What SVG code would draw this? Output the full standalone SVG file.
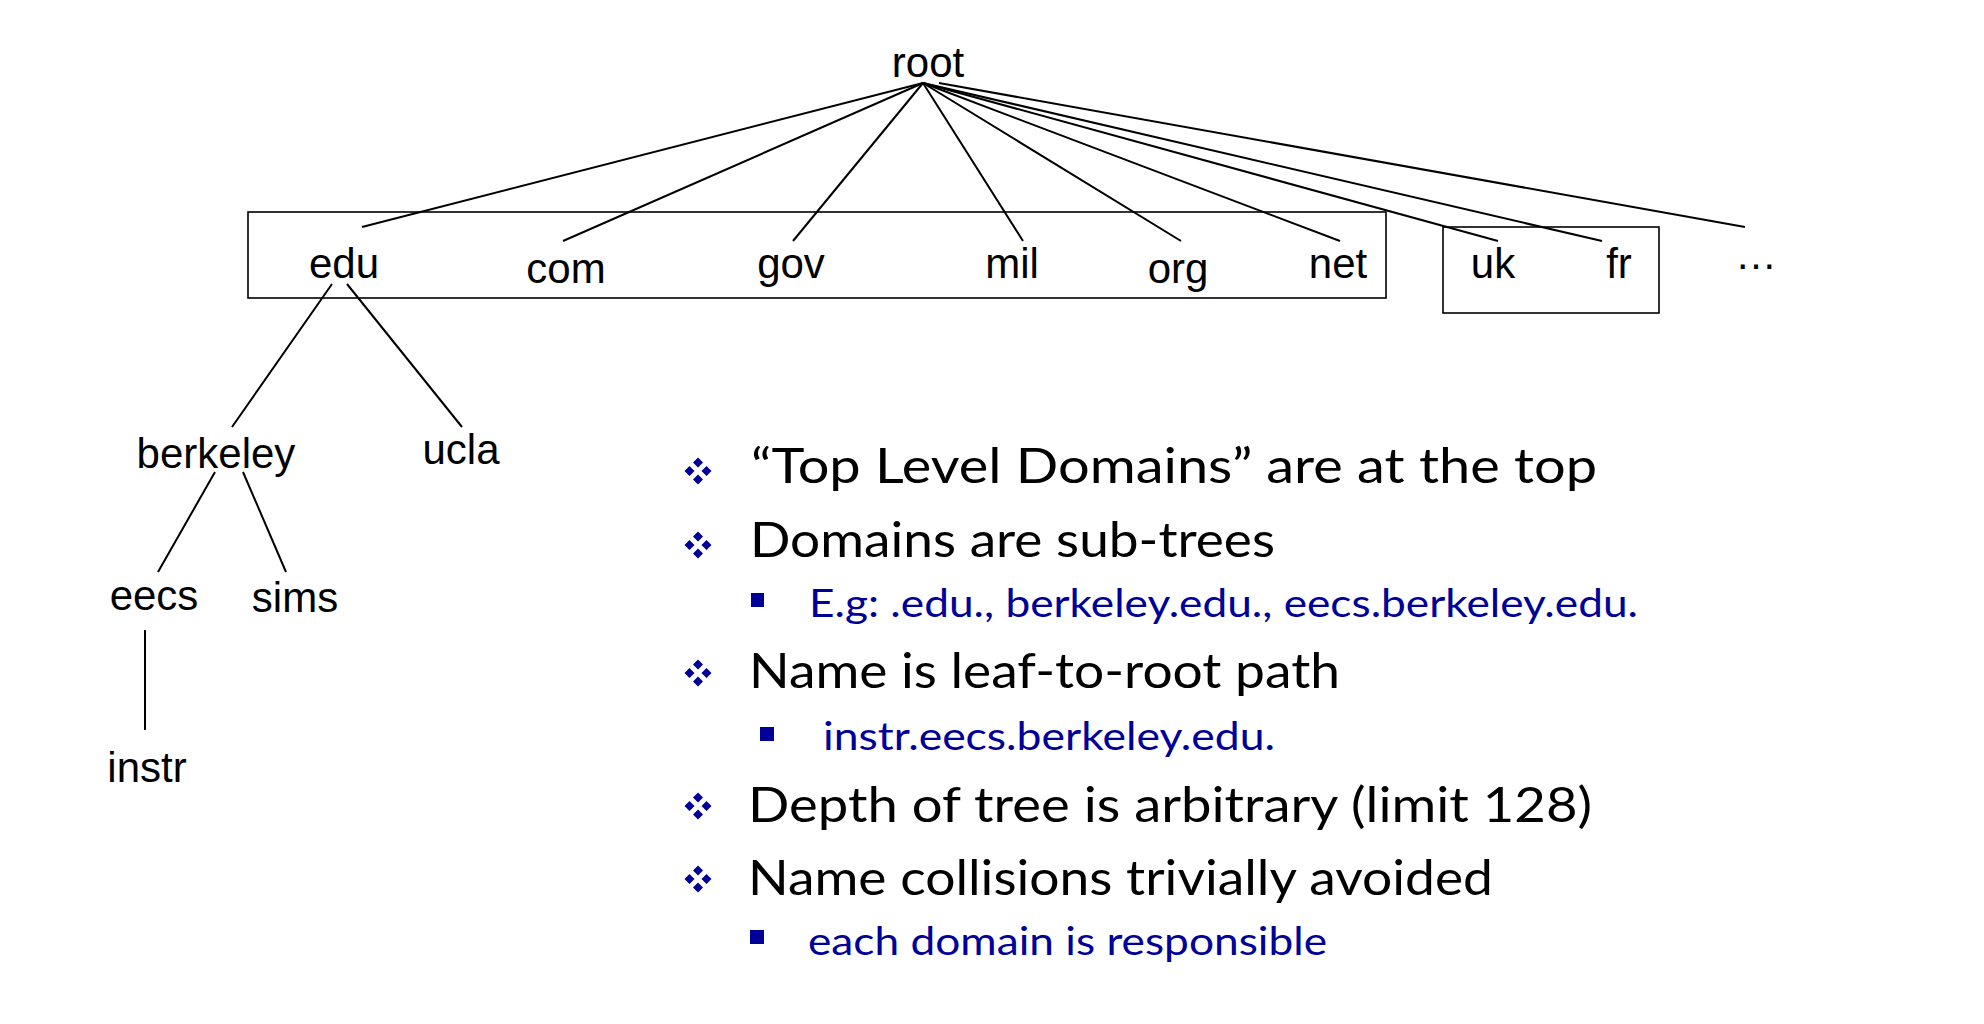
<svg xmlns="http://www.w3.org/2000/svg" xmlns:xlink="http://www.w3.org/1999/xlink" width="1984" height="1024" viewBox="0 0 1984 1024">
<style>
.n{font-family:"Liberation Sans",Arial,sans-serif;font-size:42px;fill:#000;text-anchor:middle}
.c line{stroke:#000;stroke-width:2;stroke-linecap:butt}
.box{fill:none;stroke:#000;stroke-width:1.6}
.b{font-family:Lato,"Open Sans",sans-serif;font-size:48px;fill:#000}
.s{font-family:Lato,"Open Sans",sans-serif;font-size:38px;fill:#000099}
.d{fill:#000099}
</style>
<defs>
<path id="dia" d="M0,-13.5 L5,-8.5 L0,-3.5 L-5,-8.5 Z M-13.5,0 L-8.5,-5 L-3.5,0 L-8.5,5 Z M13.5,0 L8.5,-5 L3.5,0 L8.5,5 Z M0,13.5 L5,8.5 L0,3.5 L-5,8.5 Z"/>
</defs>
<rect width="1984" height="1024" fill="#fff"/>

<g id="boxes">
<rect class="box" x="248" y="212" width="1138" height="86"/>
<rect class="box" x="1443" y="227" width="216" height="86"/>
</g>

<g id="connectors" class="c">
<line x1="923" y1="83" x2="362" y2="227"/>
<line x1="923" y1="83" x2="563" y2="241"/>
<line x1="923" y1="83" x2="793" y2="241"/>
<line x1="923" y1="83" x2="1023" y2="241"/>
<line x1="923" y1="83" x2="1181" y2="241"/>
<line x1="923" y1="83" x2="1340" y2="241"/>
<line x1="923" y1="83" x2="1498" y2="241"/>
<line x1="923" y1="83" x2="1602" y2="241"/>
<line x1="939" y1="83" x2="1745" y2="227"/>
<line x1="332" y1="284" x2="232" y2="427"/>
<line x1="347" y1="284" x2="462" y2="427"/>
<line x1="215" y1="472" x2="158" y2="572"/>
<line x1="243" y1="472" x2="286" y2="572"/>
<line x1="145" y1="630" x2="145" y2="730"/>
</g>

<g id="root"><text class="n" x="928" y="77">root</text></g>
<g id="edu"><text class="n" x="344" y="278">edu</text></g>
<g id="com"><text class="n" x="566" y="283">com</text></g>
<g id="gov"><text class="n" x="791" y="278">gov</text></g>
<g id="mil"><text class="n" x="1012" y="278">mil</text></g>
<g id="org"><text class="n" x="1178" y="283">org</text></g>
<g id="net"><text class="n" x="1338" y="278">net</text></g>
<g id="uk"><text class="n" x="1493" y="278">uk</text></g>
<g id="fr"><text class="n" x="1619" y="278">fr</text></g>
<g id="more"><text class="n" x="1756" y="269">…</text></g>
<g id="berkeley"><text class="n" x="216" y="468">berkeley</text></g>
<g id="ucla"><text class="n" x="461" y="464">ucla</text></g>
<g id="eecs"><text class="n" x="154" y="610">eecs</text></g>
<g id="sims"><text class="n" x="295" y="612">sims</text></g>
<g id="instr"><text class="n" x="147" y="782">instr</text></g>

<g id="bullets">
<use xlink:href="#dia" href="#dia" class="d" x="698" y="471"/>
<text class="b" x="751" y="483" textLength="846" lengthAdjust="spacingAndGlyphs">“Top Level Domains” are at the top</text>
<use xlink:href="#dia" href="#dia" class="d" x="698" y="545"/>
<text class="b" x="750" y="557" textLength="525" lengthAdjust="spacingAndGlyphs">Domains are sub-trees</text>
<rect class="d" x="751" y="593" width="13" height="14"/>
<text class="s" x="809" y="617" textLength="829" lengthAdjust="spacingAndGlyphs">E.g: .edu., berkeley.edu., eecs.berkeley.edu.</text>
<use xlink:href="#dia" href="#dia" class="d" x="698" y="673"/>
<text class="b" x="749" y="688" textLength="591" lengthAdjust="spacingAndGlyphs">Name is leaf-to-root path</text>
<rect class="d" x="760" y="727" width="14" height="14"/>
<text class="s" x="823" y="750" textLength="452" lengthAdjust="spacingAndGlyphs">instr.eecs.berkeley.edu.</text>
<use xlink:href="#dia" href="#dia" class="d" x="698" y="806"/>
<text class="b" x="748" y="822" textLength="844" lengthAdjust="spacingAndGlyphs">Depth of tree is arbitrary (limit 128)</text>
<use xlink:href="#dia" href="#dia" class="d" x="698" y="879"/>
<text class="b" x="748" y="895" textLength="745" lengthAdjust="spacingAndGlyphs">Name collisions trivially avoided</text>
<rect class="d" x="750" y="930" width="14" height="14"/>
<text class="s" x="808" y="955" textLength="519" lengthAdjust="spacingAndGlyphs">each domain is responsible</text>
</g>
</svg>
